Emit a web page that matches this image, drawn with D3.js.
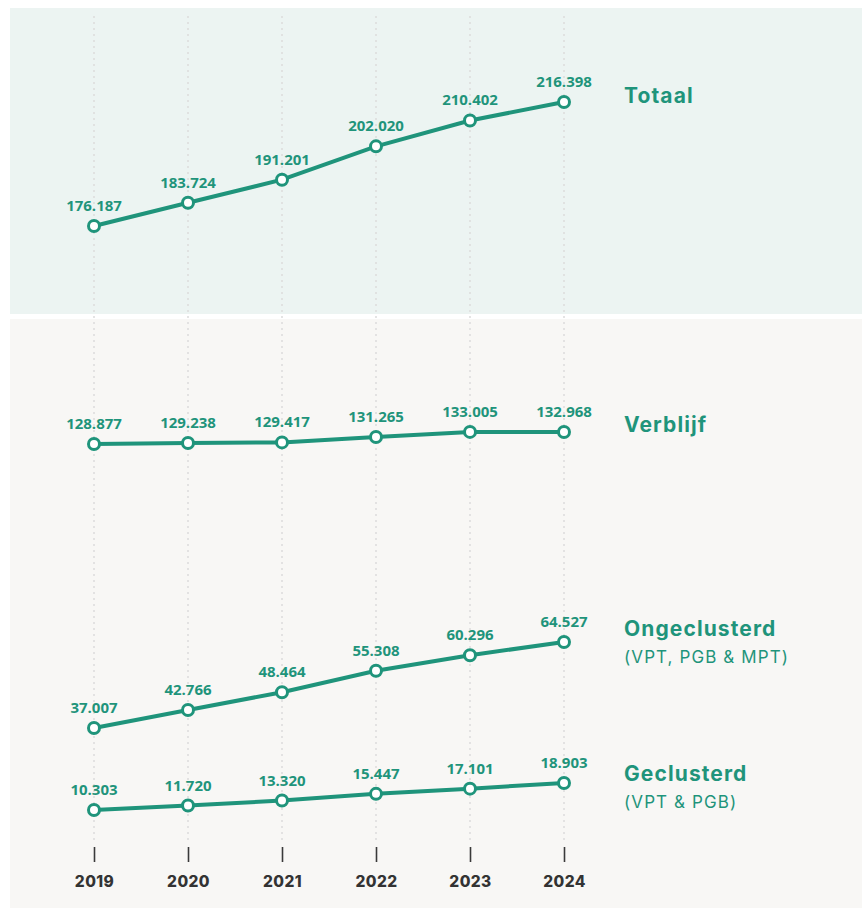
<!DOCTYPE html>
<html>
<head>
<meta charset="utf-8">
<script src="https://cdn.jsdelivr.net/npm/d3@7"></script>
<style>
  body { margin: 0; background: #fff; }
</style>
</head>
<body>
<div id="canvas"></div>
<script>
const years = ["2019", "2020", "2021", "2022", "2023", "2024"];
const totaal = [176187, 183724, 191201, 202020, 210402, 216398];
const verblijf = [128877, 129238, 129417, 131265, 133005, 132968];
const ongeclusterd = [37007, 42766, 48464, 55308, 60296, 64527];
const geclusterd = [10303, 11720, 13320, 15447, 17101, 18903];
const seriesNames = ["Totaal", "Verblijf", "Ongeclusterd", "Geclusterd"];
const seriesSubs = ["", "", "(VPT, PGB & MPT)", "(VPT & PGB)"];

const width = 863;
const height = 908;
const teal = "#1f947b";
const fmt = (v) => d3.format(",")(v).replace(/,/g, ".");

const svg = d3.select("#canvas").append("svg")
  .attr("width", width)
  .attr("height", height);

// panels
svg.append("rect").attr("x", 10).attr("y", 8).attr("width", 852).attr("height", 306)
  .attr("fill", "#ecf4f2");
svg.append("rect").attr("x", 10).attr("y", 319).attr("width", 852).attr("height", 589)
  .attr("fill", "#f8f7f5");

const x = d3.scalePoint().domain(years).range([94, 564]);

// dotted grid
svg.append("g").selectAll("line").data(years).enter().append("line")
  .attr("x1", (d) => x(d)).attr("x2", (d) => x(d))
  .attr("y1", 16).attr("y2", 840)
  .attr("stroke", "#dcdcdc")
  .attr("stroke-width", 1.5)
  .attr("stroke-dasharray", "2,4");

// x axis: tick marks + labels
const xAxis = svg.append("g")
  .attr("transform", "translate(0,847)")
  .call(d3.axisBottom(x).tickSize(15).tickPadding(14));
xAxis.select(".domain").remove();
xAxis.selectAll(".tick line").attr("stroke", "#3a3a3a").attr("stroke-width", 1.6);
xAxis.selectAll(".tick text")
  .attr("fill", "#333")
  .style("font-family", "Inter, sans-serif")
  .style("font-size", "15.5px")
  .style("font-weight", "800")
  .style("letter-spacing", "0.4px");

// each series has its own vertical band
const seriesData = [totaal, verblijf, ongeclusterd, geclusterd];
const bands = [[226, 102], [444, 432], [728, 642], [810, 783]];
const nameY = [103, 432, 636, 781];

seriesData.forEach((vals, i) => {
  const y = d3.scaleLinear()
    .domain([vals[0], vals[vals.length - 1]])
    .range(bands[i]);
  const pts = vals.map((v, j) => ({ year: years[j], v: v }));
  const g = svg.append("g");

  g.append("path")
    .datum(pts)
    .attr("fill", "none")
    .attr("stroke", teal)
    .attr("stroke-width", 4)
    .attr("d", d3.line().x((d) => x(d.year)).y((d) => y(d.v)));

  g.selectAll("circle").data(pts).enter().append("circle")
    .attr("cx", (d) => x(d.year))
    .attr("cy", (d) => y(d.v))
    .attr("r", 5.5)
    .attr("fill", "#fff")
    .attr("stroke", teal)
    .attr("stroke-width", 3);

  g.selectAll("text.val").data(pts).enter().append("text")
    .attr("class", "val")
    .attr("x", (d) => x(d.year))
    .attr("y", (d) => y(d.v) - 15)
    .attr("text-anchor", "middle")
    .attr("fill", teal)
    .style("font-family", "'Open Sans', sans-serif")
    .style("font-size", "15px")
    .style("font-weight", "700")
    .text((d) => fmt(d.v));

  g.append("text")
    .attr("x", 624)
    .attr("y", nameY[i])
    .attr("fill", teal)
    .style("font-family", "Inter, sans-serif")
    .style("font-size", "21px")
    .style("font-weight", "700")
    .style("letter-spacing", "1.1px")
    .text(seriesNames[i]);

  if (seriesSubs[i]) {
    g.append("text")
      .attr("x", 624)
      .attr("y", nameY[i] + 27)
      .attr("fill", teal)
      .style("font-family", "Inter, sans-serif")
      .style("font-size", "17px")
      .style("letter-spacing", "1.1px")
      .text(seriesSubs[i]);
  }
});
</script>
</body>
</html>
